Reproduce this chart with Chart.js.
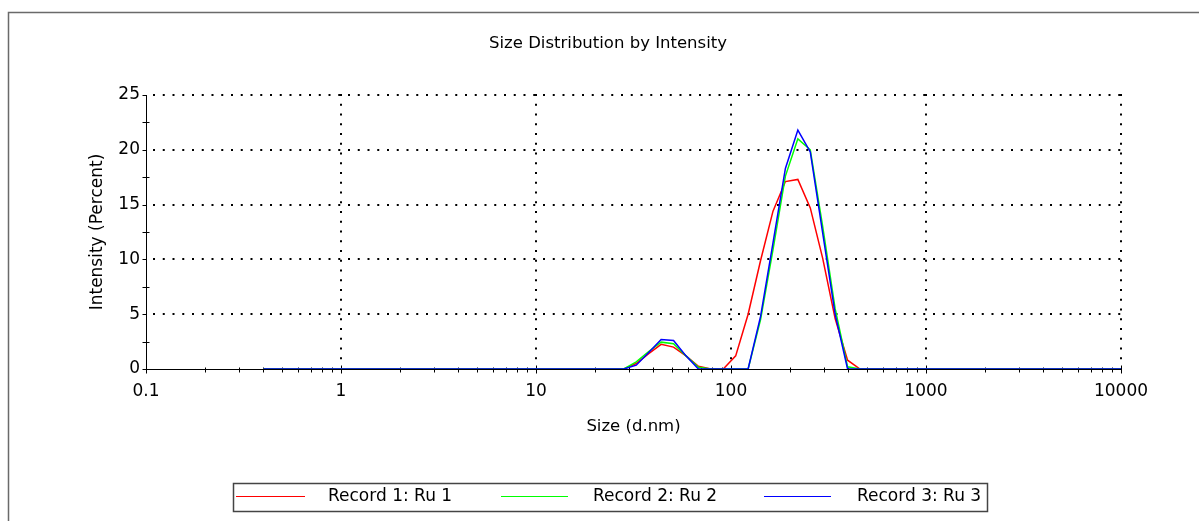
<!DOCTYPE html>
<html><head><meta charset="utf-8">
<script src="https://cdn.jsdelivr.net/npm/chart.js@4/dist/chart.umd.min.js"></script>
<style>html,body{margin:0;padding:0;background:#fff;overflow:hidden}canvas{display:block}</style>
</head><body>
<canvas id="c" width="1199" height="521"></canvas>
<script>
// Size bins (d.nm)
const sizes = [0.4,0.4632,0.5365,0.6213,0.7195,0.8332,0.9649,1.117,1.294,1.499,
  1.736,2.010,2.328,2.696,3.122,3.615,4.187,4.849,5.615,6.503,
  7.531,8.721,10.10,11.70,13.54,15.69,18.17,21.04,24.36,28.21,
  32.67,37.84,43.82,50.75,58.77,68.06,78.82,91.28,105.7,122.4,
  141.8,164.2,190.1,220.2,255.0,295.3,342.0,396.1,458.7,531.2,
  615.1,712.4,825.0,955.4,1106,1281,1484,1718,1990,2305,
  2669,3091,3580,4145,4801,5560,6439,7456,8635,10000];
// Intensity (%)
const record1 = [0,0,0,0,0,0,0,0,0,0, 0,0,0,0,0,0,0,0,0,0, 0,0,0,0,0,0,0,0,0,0,
  0.5,1.4,2.25,2.0,1.2,0.25,0,0,1.2,5.0, 9.9,14.4,17.1,17.3,14.7,10.1,4.6,0.8,0,0,
  0,0,0,0,0,0,0,0,0,0, 0,0,0,0,0,0,0,0,0,0];
const record2 = [0,0,0,0,0,0,0,0,0,0, 0,0,0,0,0,0,0,0,0,0, 0,0,0,0,0,0,0,0,0,0,
  0.65,1.6,2.45,2.3,1.2,0.15,0,0,0,0, 4.5,10.9,17.6,21.0,20.0,13.0,5.5,0.2,0,0,
  0,0,0,0,0,0,0,0,0,0, 0,0,0,0,0,0,0,0,0,0];
const record3 = [0,0,0,0,0,0,0,0,0,0, 0,0,0,0,0,0,0,0,0,0, 0,0,0,0,0,0,0,0,0,0,
  0.35,1.5,2.7,2.6,1.2,0,0,0,0,0, 4.8,11.5,18.3,21.8,19.8,12.4,5.0,0,0,0,
  0,0,0,0,0,0,0,0,0,0, 0,0,0,0,0,0,0,0,0,0];
const seriesNames = ['Record 1: Ru 1','Record 2: Ru 2','Record 3: Ru 3'];
const seriesColors = ['#ff0000','#00ff00','#0000ff'];
const chartTitle = 'Size Distribution by Intensity';
const xTickValues = [0.1,1,10,100,1000,10000];
const xTickLabels = ['0.1','1','10','100','1000','10000'];
const xMinorMultipliers = [2,3,4,5,6,7,8,9];
const yTickValues = [0,5,10,15,20,25];
const yMinorTicks = [2.5,7.5,12.5,17.5,22.5];

const FONT = 'DejaVu Sans';
const seriesData = [record1, record2, record3];

const framePlugin = {
  id: 'frame',
  beforeDraw(chart) {
    const ctx = chart.ctx;
    ctx.save();
    ctx.strokeStyle = '#6a6a6a';
    ctx.lineWidth = 1.5;
    ctx.beginPath();
    ctx.moveTo(8.5, chart.height + 5);
    ctx.lineTo(8.5, 12.5);
    ctx.lineTo(chart.width + 5, 12.5);
    ctx.stroke();
    ctx.font = '16.5px "' + FONT + '"';
    ctx.fillStyle = '#000';
    ctx.textAlign = 'center';
    ctx.textBaseline = 'middle';
    ctx.fillText(chartTitle, 608, 44);
    ctx.restore();
  }
};

const gridPlugin = {
  id: 'dotgrid',
  beforeDatasetsDraw(chart) {
    const {ctx, chartArea: a, scales: {x, y}} = chart;
    ctx.save();
    ctx.strokeStyle = '#000';
    ctx.lineWidth = 2;
    ctx.setLineDash([2, 7.75]);
    yTickValues.forEach(v => {
      if (v === yTickValues[0]) return;
      const py = Math.round(y.getPixelForValue(v));
      ctx.beginPath(); ctx.moveTo(a.left + 7, py); ctx.lineTo(a.right + 2, py); ctx.stroke();
    });
    xTickValues.forEach(v => {
      if (v === xTickValues[0]) return;
      const px = Math.round(x.getPixelForValue(v));
      ctx.beginPath(); ctx.moveTo(px, a.top - 1); ctx.lineTo(px, a.bottom - 4); ctx.stroke();
    });
    ctx.setLineDash([]);
    ctx.lineWidth = 1;
    const L = Math.round(a.left) + 0.5, B = Math.round(a.bottom) + 0.5;
    ctx.beginPath();
    ctx.moveTo(L, Math.round(a.top)); ctx.lineTo(L, B);
    ctx.lineTo(Math.round(a.right) + 1, B);
    ctx.stroke();
    yTickValues.concat(yMinorTicks).forEach(v => {
      const py = Math.round(y.getPixelForValue(v)) + 0.5;
      const major = yTickValues.includes(v);
      ctx.beginPath(); ctx.moveTo(L - 4, py); ctx.lineTo(L + (major ? 0 : 3), py); ctx.stroke();
    });
    xTickValues.forEach((d, i) => {
      const px = Math.round(x.getPixelForValue(d)) + 0.5;
      ctx.beginPath(); ctx.moveTo(px, B - 4); ctx.lineTo(px, B + 4); ctx.stroke();
      if (i < xTickValues.length - 1) {
        xMinorMultipliers.forEach(m => {
          const qx = Math.round(x.getPixelForValue(d * m)) + 0.5;
          ctx.beginPath(); ctx.moveTo(qx, B - 2); ctx.lineTo(qx, B + 3); ctx.stroke();
        });
      }
    });
    ctx.restore();
  }
};

const legendPlugin = {
  id: 'boxlegend',
  afterDraw(chart) {
    const ctx = chart.ctx;
    ctx.save();
    ctx.strokeStyle = '#444';
    ctx.lineWidth = 1.5;
    ctx.strokeRect(233.5, 483.5, 754, 28);
    const items = [
      {l1: 236, l2: 305, t: 328},
      {l1: 501, l2: 568, t: 593},
      {l1: 764, l2: 831, t: 857}
    ];
    ctx.font = '17px "' + FONT + '"';
    ctx.textBaseline = 'middle';
    ctx.fillStyle = '#000';
    items.forEach((it, i) => {
      ctx.strokeStyle = seriesColors[i];
      ctx.lineWidth = 1;
      ctx.beginPath(); ctx.moveTo(it.l1, 496.5); ctx.lineTo(it.l2, 496.5); ctx.stroke();
      ctx.fillText(seriesNames[i], it.t, 497);
    });
    ctx.restore();
  }
};

const datasets = seriesData.map((vals, i) => ({
  label: seriesNames[i],
  data: sizes.map((s, k) => ({x: s, y: vals[k]})),
  borderColor: seriesColors[i],
  backgroundColor: seriesColors[i],
  borderWidth: 1.5,
  pointRadius: 0,
  tension: 0,
  fill: false,
  order: 3 - i
}));

new Chart(document.getElementById('c'), {
  type: 'line',
  data: {datasets},
  options: {
    responsive: false,
    animation: false,
    devicePixelRatio: 1,
    layout: {padding: {left: 80, right: 78, top: 95, bottom: 77}},
    plugins: {
      legend: {display: false},
      tooltip: {enabled: false},
      title: {display: false}
    },
    scales: {
      x: {
        type: 'logarithmic',
        position: 'bottom',
        min: 0.1, max: 10000,
        grid: {display: false, drawTicks: false},
        border: {display: false},
        afterBuildTicks: s => { s.ticks = xTickValues.map(v => ({value: v})); },
        afterFit: s => { s.height = 75; },
        ticks: {
          color: '#000',
          font: {family: FONT, size: 17},
          padding: 12,
          maxRotation: 0,
          autoSkip: false,
          callback: v => xTickLabels[xTickValues.indexOf(v)]
        },
        title: {display: true, text: 'Size (d.nm)', color: '#000',
          font: {family: FONT, size: 16.5}, padding: {top: 0, bottom: 7.2}}
      },
      y: {
        type: 'linear',
        min: 0, max: 25,
        grid: {display: false, drawTicks: false},
        border: {display: false},
        afterBuildTicks: s => { s.ticks = yTickValues.map(v => ({value: v})); },
        afterFit: s => { s.width = 66; },
        ticks: {color: '#000', font: {family: FONT, size: 17}, padding: 6},
        title: {display: true, text: 'Intensity (Percent)', color: '#000',
          font: {family: FONT, size: 17}, padding: {top: 7.8, bottom: 0}}
      }
    }
  },
  plugins: [framePlugin, gridPlugin, legendPlugin]
});
</script>
</body></html>
